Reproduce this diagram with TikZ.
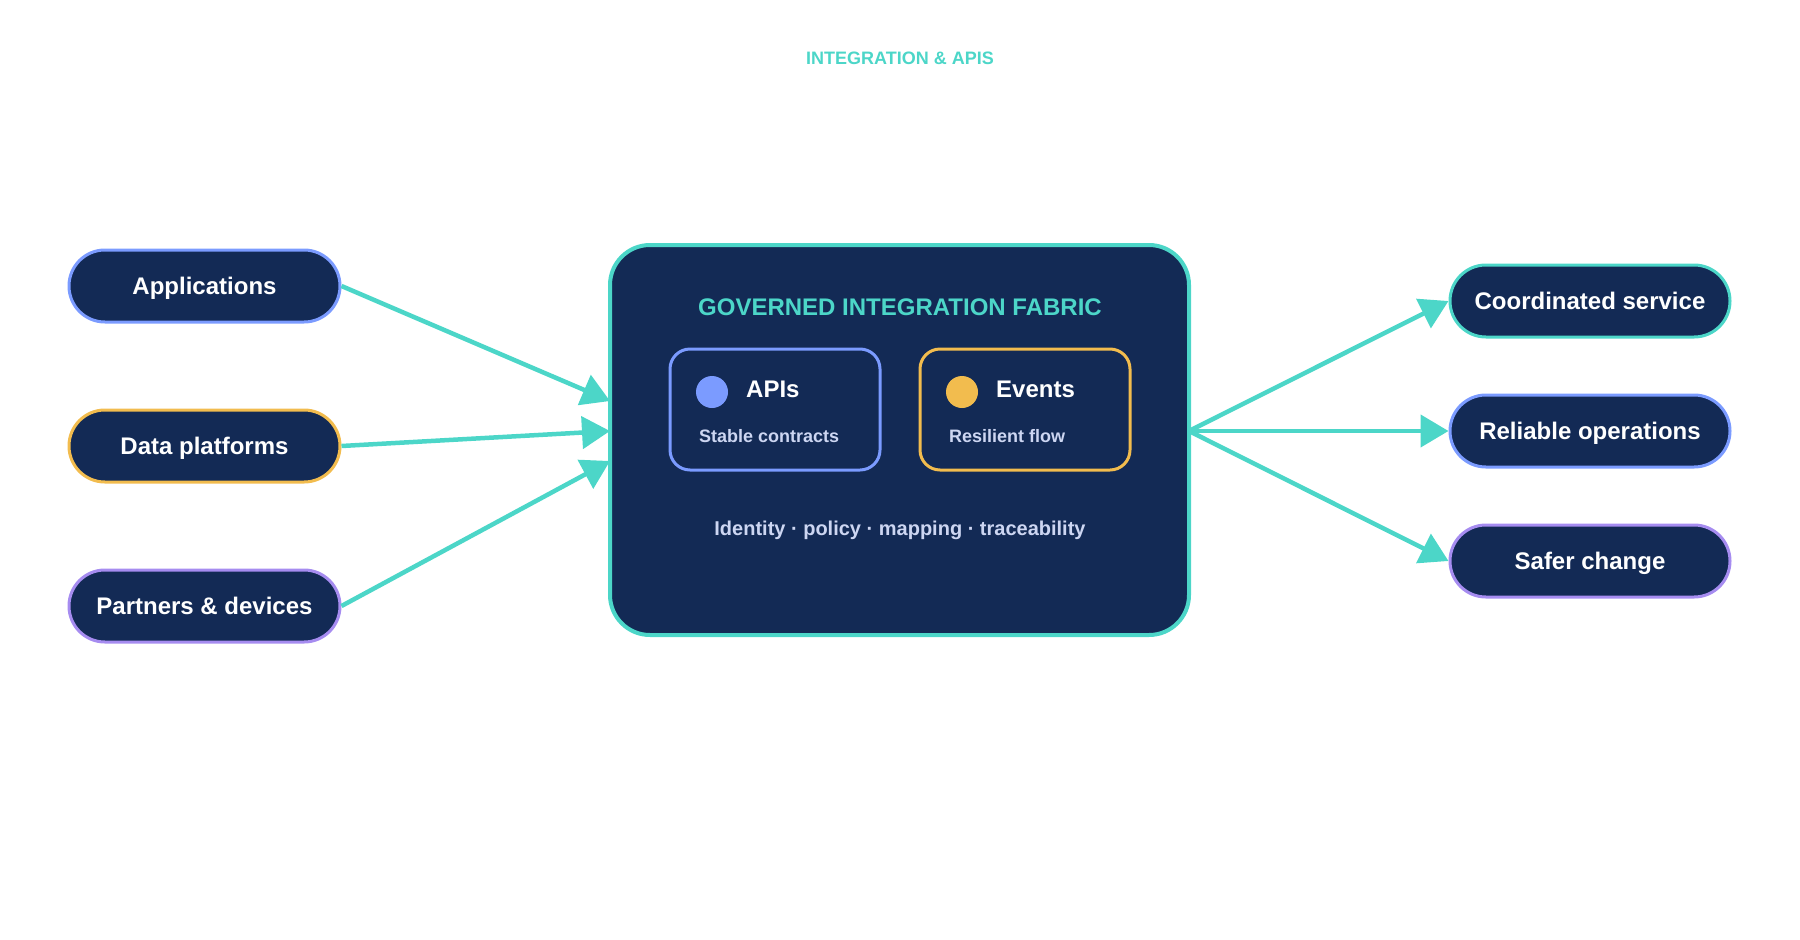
\documentclass[tikz,border=0pt]{standalone}
\usepackage{fontspec}
\setmainfont{Liberation Sans}
\usepackage{tikz}
\usetikzlibrary{positioning,arrows.meta,shapes}

\definecolor{navy}{HTML}{132A55}
\definecolor{fabricteal}{HTML}{4CD6C8}
\definecolor{apiblue}{HTML}{7B9BFF}
\definecolor{eventgold}{HTML}{F2BC4E}
\definecolor{partnerviolet}{HTML}{A68CF0}
\definecolor{softtext}{HTML}{CDD6F2}

\begin{document}
\begin{tikzpicture}[x=1pt, y=-1pt,
        pill/.style = {draw, line width=3pt, fill=navy, rounded corners=35.9pt,
            minimum width=271pt, minimum height=72pt, text=white,
            text height=17.2pt, text depth=0pt,
            font=\fontsize{24}{28}\selectfont\bfseries},
        fabric/.style = {draw=fabricteal, line width=4pt, fill=navy, rounded corners=40pt,
            minimum width=579pt, minimum height=390pt},
        card/.style = {draw, line width=3pt, rounded corners=20pt,
            minimum width=210pt, minimum height=121pt},
        dot/.style = {circle, inner sep=0pt, minimum size=32pt},
        cardhead/.style = {inner sep=0pt, anchor=west, text=white,
            font=\fontsize{24}{28}\selectfont\bfseries},
        cardsub/.style = {inner sep=0pt, anchor=west, text=softtext,
            font=\fontsize{18}{22}\selectfont\bfseries},
        flow/.style = {draw=fabricteal, line width=4.5pt,
            -{Triangle[length=28pt, width=32pt]}}]
        \useasboundingbox (0,0) rectangle (1800,940);

        \node[inner sep=0pt, text=fabricteal, font=\fontsize{18}{22}\selectfont\bfseries]
            (heading) at (900,58) {INTEGRATION \& APIS};

        % sources
        \node[pill, draw=apiblue] (apps) at (204.5,286) {Applications};
        \node[pill, draw=eventgold, below = 85pt of apps] (data) {Data platforms};
        \node[pill, draw=partnerviolet, below = 85pt of data] (partners) {Partners \& devices};

        % fabric
        \node[fabric] (fabric) at (899.5,440) {};
        \node[inner sep=0pt, text=fabricteal, font=\fontsize{24}{28}\selectfont\bfseries]
            (fabrictitle) at (900,307) {GOVERNED INTEGRATION FABRIC};
        \node[card, draw=apiblue] (apis) at (775,409.5) {};
        \node[card, draw=eventgold, right = 37pt of apis] (events) {};
        \node[dot, fill=apiblue] (apisdot) at (712,392) {};
        \node[dot, fill=eventgold] (eventsdot) at (962,392) {};
        \node[cardhead] (apislabel) at (746,389.5) {APIs};
        \node[cardhead] (eventslabel) at (996,389.5) {Events};
        \node[cardsub] (apissub) at (699,436) {Stable contracts};
        \node[cardsub] (eventssub) at (949,436) {Resilient flow};
        \node[inner sep=0pt, anchor=base, text=softtext, font=\fontsize{20}{24}\selectfont\bfseries]
            (controls) at (900,535) {Identity · policy · mapping · traceability};

        % outcomes
        \node[pill, draw=fabricteal, minimum width=280pt] (coordinated) at (1590,301) {Coordinated service};
        \node[pill, draw=apiblue, minimum width=280pt, below = 55pt of coordinated] (reliable) {Reliable operations};
        \node[pill, draw=partnerviolet, minimum width=280pt, below = 55pt of reliable] (safer) {Safer change};

        \coordinate (inA) at (610,401);
        \coordinate (inB) at (610,431);
        \coordinate (inC) at (610,461);
        \coordinate (hubout) at (1189,431);

        \draw[flow] (apps.east) -- (inA);
        \draw[flow] (data.east) -- (inB);
        \draw[flow] (partners.east) -- (inC);
        \draw[flow] (hubout) -- (coordinated.west);
        \draw[flow] (hubout) -- (reliable.west);
        \draw[flow] (hubout) -- (safer.west);
    \end{tikzpicture}
\end{document}
